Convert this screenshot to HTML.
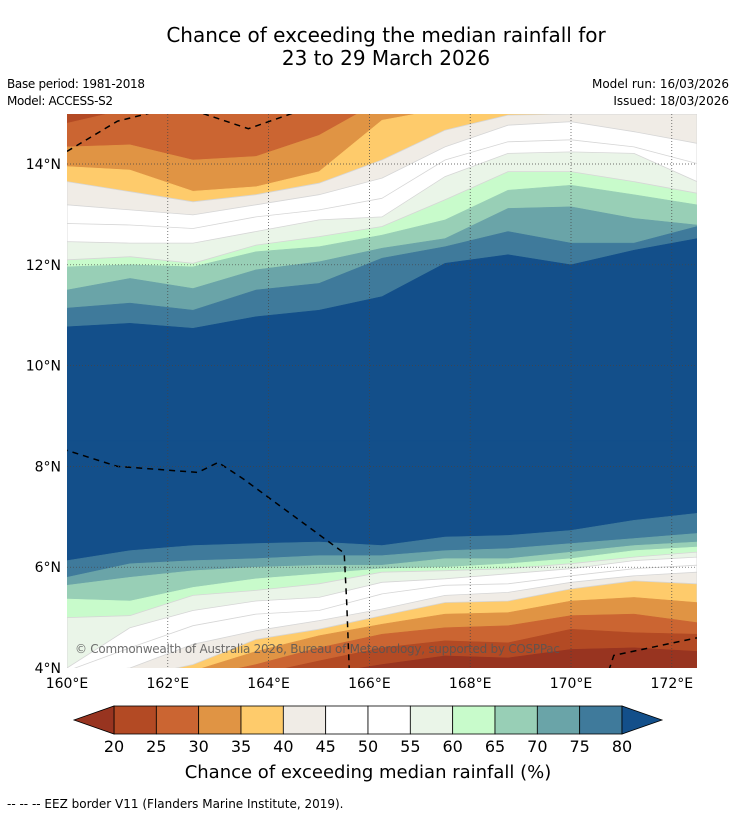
<!DOCTYPE html>
<html><head><meta charset="utf-8"><style>
body{margin:0;background:#fff;font-family:"Liberation Sans",sans-serif;}
svg text{font-family:"DejaVu Sans","Liberation Sans",sans-serif;}
</style></head><body>
<svg id="chart" width="736" height="816" xmlns="http://www.w3.org/2000/svg">
<text x="386" y="42" font-size="20" text-anchor="middle">Chance of exceeding the median rainfall for</text>
<text x="386" y="65" font-size="20" text-anchor="middle">23 to 29 March 2026</text>
<text x="7" y="88" font-size="12" textLength="138">Base period: 1981-2018</text>
<text x="7" y="105" font-size="12" textLength="106">Model: ACCESS-S2</text>
<text x="729" y="88" font-size="12" text-anchor="end">Model run: 16/03/2026</text>
<text x="729" y="105" font-size="12" text-anchor="end">Issued: 18/03/2026</text>
<defs><clipPath id="mapclip"><rect x="67" y="114" width="630" height="554"/></clipPath></defs>
<g id="map" clip-path="url(#mapclip)"></g>
<g id="grid"></g>
<g id="axes"></g>
<text x="75" y="653" font-size="12" fill="#555" fill-opacity="0.85" textLength="485">© Commonwealth of Australia 2026, Bureau of Meteorology, supported by COSPPac</text>
<g id="cbar"></g>
<text x="368" y="778" font-size="18" text-anchor="middle">Chance of exceeding median rainfall (%)</text>
<text x="7" y="808" font-size="12">--  --  -- EEZ border V11 (Flanders Marine Institute, 2019).</text>
</svg>
<script>
const lons=[160,161.25,162.5,163.75,165,166.25,167.5,168.75,170,171.25,172.5];
const levels=[20,25,30,35,40,45,50,55,60,65,70,75,80];
const colors=["#983420","#b34a24","#cb6532","#e09444","#fecb6b","#f0ece6","#ffffff","#ffffff","#eaf5e8","#c8fbcb","#98cfb6","#6aa4a8","#3f7a9b","#134f8a"];
const north={
25:[14.81,15.1,15.3,15.3,15.3,15.3,15.3,15.3,15.3,15.3,15.3],
30:[14.34,14.38,14.08,14.15,14.57,15.27,15.3,15.3,15.3,15.3,15.3],
35:[13.95,13.88,13.46,13.55,13.85,14.87,15.1,15.3,15.3,15.3,14.97],
40:[13.65,13.45,13.25,13.39,13.62,14.08,14.67,14.97,14.99,14.99,14.99],
45:[13.19,13.09,12.99,13.19,13.39,13.72,14.34,14.77,14.84,14.64,14.41],
50:[12.82,12.79,12.72,12.95,13.09,13.32,14.08,14.44,14.48,14.34,14.01],
55:[12.46,12.43,12.43,12.66,12.89,12.95,13.75,14.21,14.24,14.21,13.65],
60:[12.10,12.16,12.03,12.39,12.56,12.76,13.29,13.85,13.85,13.65,13.42],
65:[11.96,12.0,11.96,12.26,12.36,12.59,12.89,13.48,13.58,13.39,13.19],
70:[11.50,11.73,11.53,11.90,12.06,12.33,12.52,13.12,13.15,12.92,12.79],
75:[11.14,11.24,11.10,11.50,11.63,12.13,12.36,12.66,12.43,12.43,12.76],
80:[10.77,10.84,10.74,10.97,11.10,11.37,12.03,12.20,12.00,12.29,12.52]};
const south={
80:[6.13,6.33,6.43,6.47,6.50,6.43,6.60,6.63,6.73,6.93,7.07],
75:[5.80,6.07,6.13,6.17,6.23,6.23,6.33,6.37,6.47,6.57,6.67],
70:[5.64,5.80,5.93,6.00,6.04,6.04,6.17,6.17,6.30,6.43,6.50],
65:[5.37,5.33,5.60,5.77,5.87,5.97,6.00,6.07,6.17,6.33,6.40],
60:[5.00,5.04,5.44,5.54,5.67,5.90,5.93,5.97,6.07,6.20,6.30],
55:[4.00,4.80,5.14,5.33,5.40,5.70,5.77,5.87,5.97,6.13,6.20],
50:[3.94,4.40,4.84,5.07,5.14,5.47,5.64,5.67,5.83,5.97,6.04],
45:[3.87,4.00,4.47,4.74,4.94,5.17,5.44,5.50,5.70,5.83,5.90],
40:[3.80,3.80,4.07,4.57,4.77,5.04,5.30,5.33,5.57,5.73,5.67],
35:[3.74,3.74,3.94,4.33,4.64,4.87,5.07,5.10,5.33,5.40,5.30],
30:[3.67,3.67,3.80,4.07,4.40,4.67,4.80,4.84,5.04,5.07,4.90],
25:[3.60,3.60,3.70,3.87,4.14,4.40,4.54,4.50,4.77,4.70,4.67],
20:[3.54,3.54,3.60,3.70,3.87,4.07,4.24,4.20,4.37,4.40,4.33]};
const lonTicks=[160,162,164,166,168,170,172];
const latTicks=[4,6,8,10,12,14];
const cbTicks=[20,25,30,35,40,45,50,55,60,65,70,75,80];
const eezN=[[160,14.25],[161,14.85],[161.8,15.05]];
const eezN2=[[162.7,15.0],[163.6,14.7],[164.6,15.05]];
const eezMainL=[[159.9,8.35],[161,8.0],[162.6,7.88],[163.0,8.08],[163.5,7.75],[165.5,6.28],[165.55,5.3],[165.6,4.0]];
const eezSE=[[170.75,3.95],[170.85,4.25],[172.5,4.6]];

const NS="http://www.w3.org/2000/svg";
const X=l=>67+(l-160)*50.4, Y=t=>668-(t-4)*50.4;
function mk(tag,attrs,parent){const e=document.createElementNS(NS,tag);for(const k in attrs)e.setAttribute(k,attrs[k]);parent.appendChild(e);return e;}
const map=document.getElementById('map');
function line(arr){return lons.map((l,i)=>X(l).toFixed(1)+','+Y(arr[i]).toFixed(1)).join(' L');}
let r=mk('rect',{x:67,y:114,width:630,height:554,fill:colors[1]},map);


const lastX=X(lons[lons.length-1]), firstX=X(lons[0]);
[25,30,35,40,45,50,55,60,65,70,75,80].forEach(t=>{
 const ci=levels.indexOf(t)+1;
 const lt=(t>=40&&t<=60);
 const p=mk('path',{d:'M'+line(north[t])+' L'+lastX+','+Y(8.5)+' L'+firstX+','+Y(8.5)+'Z',fill:colors[ci],stroke:lt?'#d6d6d6':colors[ci],'stroke-width':lt?0.8:0.5},map);
 
 
});
let r2=mk('rect',{x:67,y:Y(8.5),width:630,height:668-Y(8.5),fill:colors[13]},map);


[80,75,70,65,60,55,50,45,40,35,30,25,20].forEach(t=>{
 const ci=levels.indexOf(t);
 const lt=(t>=40&&t<=60);
 const p=mk('path',{d:'M'+line(south[t])+' L'+lastX+','+Y(3)+' L'+firstX+','+Y(3)+'Z',fill:colors[ci],stroke:lt?'#d6d6d6':colors[ci],'stroke-width':lt?0.8:0.5},map);
 
 
});
[eezN,eezN2,eezMainL,eezSE].forEach((a,i)=>{
 const p=mk('path',{d:'M'+a.map(q=>X(q[0]).toFixed(1)+','+Y(q[1]).toFixed(1)).join(' L'),fill:'none',stroke:'#000','stroke-width':1.5,'stroke-dasharray':'6,5'},map);
 
 
});
const grid=document.getElementById('grid'),axes=document.getElementById('axes');
lonTicks.forEach(l=>{
 if(l>160){const g=mk('line',{x1:X(l),x2:X(l),y1:114,y2:668,stroke:'#444','stroke-width':0.7,'stroke-dasharray':'1,2'},grid);
 
 }
 const t=mk('text',{x:X(l),y:688,'font-size':14,'text-anchor':'middle'},axes);t.textContent=l+'°E';
 
 
});
latTicks.forEach(l=>{
 if(l>4){const g=mk('line',{x1:67,x2:697,y1:Y(l),y2:Y(l),stroke:'#444','stroke-width':0.7,'stroke-dasharray':'1,2'},grid);
 
 }
 const t=mk('text',{x:61,y:Y(l)+5,'font-size':14,'text-anchor':'end'},axes);t.textContent=l+'°N';
 
 
});
const cb=document.getElementById('cbar');
const CX=v=>114+(v-20)*(508/60);
for(let i=0;i<12;i++){
 const b=mk('rect',{x:CX(cbTicks[i]),y:706,width:CX(cbTicks[i+1])-CX(cbTicks[i]),height:28,fill:colors[i+1],stroke:'#000','stroke-width':0.8},cb);
 
 
}
let tl=mk('polygon',{points:'74,720 114,706 114,734',fill:colors[0],stroke:'#000','stroke-width':0.8},cb);


let tr=mk('polygon',{points:'662,720 622,706 622,734',fill:colors[13],stroke:'#000','stroke-width':0.8},cb);


cbTicks.forEach(v=>{
 const t=mk('text',{x:CX(v),y:752,'font-size':16,'text-anchor':'middle'},cb);t.textContent=v;
 
 
});
</script>
</body></html>
